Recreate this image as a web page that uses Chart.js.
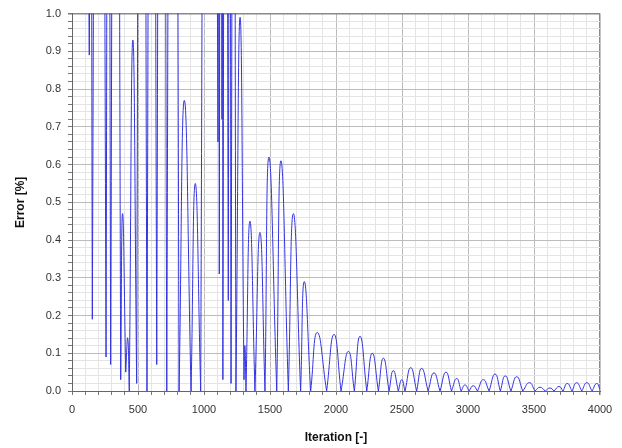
<!DOCTYPE html>
<html lang="en">
<head>
<meta charset="UTF-8">
<title>Error vs Iteration</title>
<script src="https://cdn.jsdelivr.net/npm/chart.js"></script>
<style>
  html, body { margin: 0; padding: 0; background: #fff; }
  #wrap { width: 622px; height: 448px; }
</style>
</head>
<body>
<div id="wrap"><canvas id="error-chart"></canvas></div>
<script>
// local minima of the error curve (iteration, error %)
const troughIter = [0, 131, 154, 258, 293, 369, 407, 434, 490, 568, 642, 718, 811, 902, 975,
  1106, 1116, 1136, 1143, 1184, 1205, 1242, 1303, 1318, 1386, 1462, 1551, 1639, 1732, 1808, 1929,
  2038, 2139, 2233, 2321, 2402, 2472, 2523, 2611, 2698, 2788, 2875, 2948, 3008, 3072, 3160,
  3245, 3325, 3415, 3508, 3585, 3652, 3720, 3788, 3862, 3940, 4000];
const troughErr = [2.2, 0.89, 0.19, 0.09, 0.07, 0.03, 0.05, 0.0, 0.02, 0.0, 0.07, 0.0, 0.0, 0.0, 0.0,
  0.66, 0.31, 0.72, 0.03, 0.24, 0.02, 0.0, 0.03, 0.0, 0.0, 0.0, 0.0, 0.0, 0.0, 0.0, 0.0,
  0.0, 0.0, 0.0, 0.0, 0.0, 0.0, 0.0, 0.0, 0.0, 0.0, 0.0, 0.0, 0.0, 0.0, 0.0,
  0.0, 0.0, 0.0, 0.0, 0.0, 0.0, 0.0, 0.0, 0.0, 0.0, 0.004];

// one peak between each pair of troughs; values above 1.0 run off the plot
const peakIter = [65, 143, 206, 275, 331, 383, 422, 461, 528, 605, 680, 765, 851, 934, 1040,
  1111, 1126, 1140, 1163, 1195, 1224, 1273, 1310, 1348, 1424, 1492, 1583, 1677, 1760, 1858, 1985,
  2094, 2182, 2275, 2359, 2434, 2498, 2566, 2649, 2742, 2833, 2914, 2977, 3040, 3116, 3205,
  3282, 3369, 3465, 3546, 3621, 3690, 3752, 3823, 3900, 3975];
const peakErr = [4.0, 1.6, 5.0, 2.4, 4.0, 0.47, 0.14, 0.93, 4.5, 4.0, 4.5, 5.0, 0.77, 0.55, 6.0,
  1.5, 2.5, 1.3, 3.0, 2.0, 2.5, 0.99, 0.12, 0.45, 0.42, 0.62, 0.61, 0.47, 0.29, 0.155, 0.15,
  0.105, 0.145, 0.10, 0.087, 0.054, 0.03, 0.062, 0.06, 0.048, 0.05, 0.033, 0.016, 0.014, 0.03, 0.045,
  0.04, 0.038, 0.022, 0.01, 0.008, 0.012, 0.02, 0.022, 0.022, 0.02];

const xLabelEvery = 500;

// each arch is drawn trough -> peak -> trough, with a gap after it so the
// troughs stay sharp cusps instead of being smoothed into the next arch
function buildArches() {
  const pts = [];
  for (let i = 0; i < peakIter.length; i++) {
    pts.push({ x: troughIter[i], y: troughErr[i] });
    pts.push({ x: peakIter[i], y: peakErr[i] });
    pts.push({ x: troughIter[i + 1], y: troughErr[i + 1] });
    pts.push({ x: troughIter[i + 1], y: null });
  }
  return pts;
}

const isMajorY = v => Math.abs(v * 10 - Math.round(v * 10)) < 1e-6;

const ctx = document.getElementById('error-chart').getContext('2d');
new Chart(ctx, {
  type: 'line',
  data: {
    datasets: [{
      data: buildArches(),
      borderColor: 'rgb(52, 52, 225)',
      borderWidth: 1,
      pointRadius: 0,
      tension: 0.5,
      capBezierPoints: false,
      spanGaps: false
    }]
  },
  options: {
    responsive: true,
    maintainAspectRatio: false,
    animation: false,
    layout: { padding: { left: 0, right: 22, top: 12, bottom: 0 } },
    plugins: { legend: { display: false }, tooltip: { enabled: false } },
    scales: {
      x: {
        type: 'linear',
        min: 0,
        max: 4000,
        afterFit: s => { s.height = 57; },
        ticks: {
          stepSize: 100,
          autoSkip: false,
          maxRotation: 0,
          padding: 8,
          color: '#333',
          font: { family: 'Liberation Sans', size: 11 },
          callback: v => (v % xLabelEvery === 0 ? String(v) : '')
        },
        grid: {
          color: c => (c.tick.value === 4000 ? '#8a8a8a' : c.tick.value % xLabelEvery === 0 ? '#bcbcbc' : '#e4e4e4'),
          lineWidth: c => (c.tick.value === 4000 ? 1.5 : 1),
          tickColor: '#777',
          tickLength: 4
        },
        border: { color: '#666' },
        title: {
          display: true,
          text: 'Iteration [-]',
          color: '#111',
          font: { family: 'Liberation Sans', size: 12, weight: 'bold' },
          padding: { top: 4, bottom: 3 }
        }
      },
      y: {
        min: 0,
        max: 1,
        afterFit: s => { s.width = 72; },
        ticks: {
          stepSize: 0.02,
          autoSkip: false,
          padding: 7,
          color: '#333',
          font: { family: 'Liberation Sans', size: 11 },
          callback: v => (isMajorY(v) ? v.toFixed(1) : '')
        },
        grid: {
          color: c => (c.tick.value >= 1 ? '#8a8a8a' : isMajorY(c.tick.value) ? '#bcbcbc' : '#e4e4e4'),
          lineWidth: c => (c.tick.value >= 1 ? 1.5 : 1),
          tickColor: '#777',
          tickLength: 4
        },
        border: { color: '#666' },
        title: {
          display: true,
          text: 'Error [%]',
          color: '#111',
          font: { family: 'Liberation Sans', size: 12, weight: 'bold' },
          padding: { top: 13, bottom: 0 }
        }
      }
    }
  }
});
</script>
</body>
</html>
